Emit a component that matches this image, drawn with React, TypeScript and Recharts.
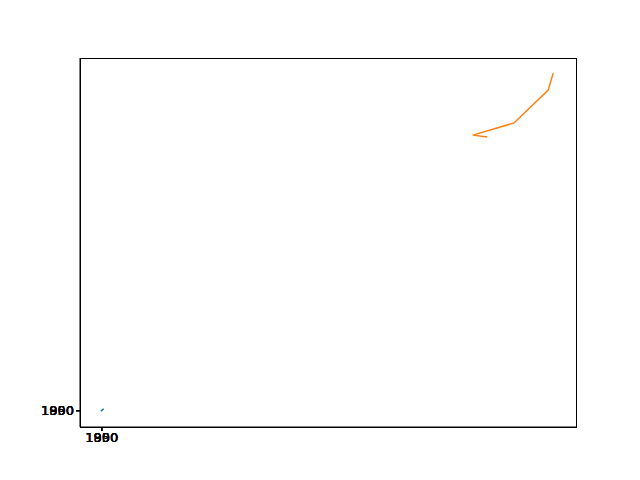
import { ScatterChart, Scatter, XAxis, YAxis } from 'recharts';

const tickLabels = ['1800', '1850', '1900', '1950', '1990'];
const tickValues = [4.4, 4.401, 4.402, 4.403, 4.404];

const blueSeries = [
  { x: 4.2, y: 4.3 },
  { x: 4.8, y: 4.9 },
];

const orangeSeries = [
  { x: 82.1, y: 78.6 },
  { x: 79.2, y: 79.1 },
  { x: 87.5, y: 82.4 },
  { x: 94.4, y: 91.3 },
  { x: 95.4, y: 95.9 },
];

const fmt = (v: number) => tickLabels[tickValues.indexOf(v)] ?? '';
const tickStyle = { fontSize: 13, fill: '#000', fontFamily: 'DejaVu Sans' };

export default function App() {
  return (
    <div style={{ position: 'absolute', left: 0, top: 0, width: 640, height: 480, background: '#fff' }}>
      <ScatterChart width={640} height={480} margin={{ top: 58, right: 64, bottom: 23, left: 40 }}>
        <XAxis xAxisId="b" type="number" dataKey="x" domain={[0, 100]} ticks={tickValues} interval={0}
          tickFormatter={fmt} height={30} stroke="#000" tick={tickStyle} tickSize={4} allowDataOverflow />
        <YAxis yAxisId="l" type="number" dataKey="y" domain={[0, 100]} ticks={tickValues} interval={0}
          tickFormatter={fmt} width={40} stroke="#000" tick={tickStyle} tickSize={4} allowDataOverflow />
        <Scatter xAxisId="b" yAxisId="l" data={blueSeries} line={{ stroke: '#1f77b4', strokeWidth: 1.5 }}
          shape={() => null} isAnimationActive={false} />
        <Scatter xAxisId="b" yAxisId="l" data={orangeSeries} line={{ stroke: '#ff7f0e', strokeWidth: 1.5 }}
          shape={() => null} isAnimationActive={false} />
      </ScatterChart>
      <div style={{ position: 'absolute', left: 80, top: 58, width: 495, height: 368, border: '1px solid #000', pointerEvents: 'none' }} />
    </div>
  );
}
